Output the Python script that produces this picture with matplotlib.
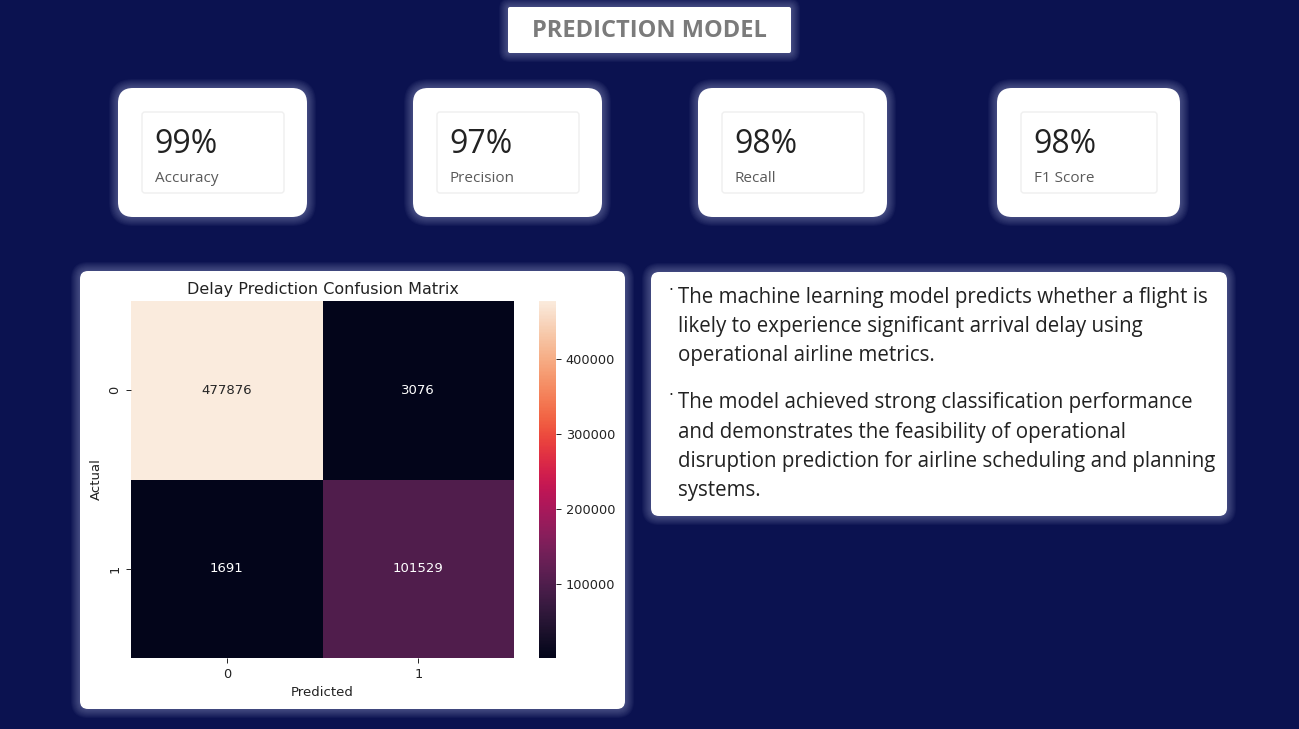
import numpy as np
import matplotlib
matplotlib.use("Agg")
import matplotlib.pyplot as plt
import seaborn as sns
from matplotlib.patches import FancyBboxPatch

# ---- data ----
metric_values = ["99%", "97%", "98%", "98%"]
metric_names = ["Accuracy", "Precision", "Recall", "F1 Score"]
cm_values = np.array([[477876, 3076],
                      [1691, 101529]])
class_labels = ["0", "1"]
bullet_lines = [
    ["The machine learning model predicts whether a flight is",
     "likely to experience significant arrival delay using",
     "operational airline metrics."],
    ["The model achieved strong classification performance",
     "and demonstrates the feasibility of operational",
     "disruption prediction for airline scheduling and planning",
     "systems."],
]

W, H = 1299, 729
BG = "#0b1250"
UI_FONT = ["Open Sans", "DejaVu Sans"]

fig = plt.figure(figsize=(W / 100, H / 100), dpi=100, facecolor=BG)
bg = fig.add_axes([0, 0, 1, 1])
bg.set_xlim(0, W)
bg.set_ylim(H, 0)
bg.axis("off")
bg.set_facecolor(BG)


def glow_box(x0, y0, x1, y1, r=14, glow=True):
    # soft light halo around the white panels
    if glow:
        for i in range(9, 0, -1):
            p = FancyBboxPatch((x0 - i, y0 - i), x1 - x0 + 2 * i, y1 - y0 + 2 * i,
                               boxstyle=f"round,pad=0,rounding_size={r + i}",
                               fc="#c9cff5", ec="none", alpha=0.04, zorder=1)
            bg.add_patch(p)
    bg.add_patch(FancyBboxPatch((x0, y0), x1 - x0, y1 - y0,
                                boxstyle=f"round,pad=0,rounding_size={r}",
                                fc="white", ec="none", zorder=2))


# title box
glow_box(508, 7, 791, 53, r=2)
bg.text(649.5, 31, "PREDICTION MODEL", ha="center", va="center", fontsize=17,
        fontweight="bold", color="#7b7b7b", family=UI_FONT, zorder=3)

# metric cards
cards = [(118, 307), (413, 602), (698, 887), (997, 1180)]
for (cx0, cx1), val, name in zip(cards, metric_values, metric_names):
    glow_box(cx0, 88, cx1, 217, r=15)
    ix0, ix1 = cx0 + 24, cx1 - 23
    bg.add_patch(FancyBboxPatch((ix0, 112), ix1 - ix0, 81,
                                boxstyle="round,pad=0,rounding_size=3",
                                fc="white", ec="#efefef", lw=1, zorder=3))
    bg.text(ix0 + 12, 144, val, ha="left", va="center", fontsize=23,
            color="#222222", family=UI_FONT, zorder=4)
    bg.text(ix0 + 13, 178, name, ha="left", va="center", fontsize=11,
            color="#5a5a5a", family=UI_FONT, zorder=4)

# confusion matrix panel
glow_box(80, 271, 625, 709, r=8)

# text panel
glow_box(651, 272, 1227, 516, r=8)
y = 297
for para in bullet_lines:
    bg.text(671, y - 7, "\u00b7", ha="center", va="center", fontsize=11,
            color="#222222", zorder=4)
    for line in para:
        bg.text(678, y, line, ha="left", va="center", fontsize=14.8,
                color="#222222", family=UI_FONT, zorder=4)
        y += 29.3
    y += 18

# heatmap
ax = fig.add_axes([131 / W, 1 - 658 / H, (514 - 131) / W, (658 - 301) / H])
cax = fig.add_axes([539 / W, 1 - 658 / H, 17 / W, (658 - 301) / H])
ax.set_facecolor("none")
sns.heatmap(cm_values, annot=True, fmt="d", cmap="rocket", ax=ax, cbar_ax=cax,
            xticklabels=class_labels, yticklabels=class_labels,
            annot_kws={"fontsize": 9.5})
ax.set_title("Delay Prediction Confusion Matrix", fontsize=11.5, color="#222222", pad=5)
ax.set_xlabel("Predicted", fontsize=9.5, color="#222222")
ax.set_ylabel("Actual", fontsize=9.5, color="#222222")
ax.tick_params(labelsize=9.3, length=3.5, width=0.7, colors="#222222")
cax.tick_params(labelsize=9.3, length=3.5, width=0.7, colors="#222222")
cax.set_yticks([100000, 200000, 300000, 400000])

fig.savefig("out.png", dpi=100, facecolor=BG)
